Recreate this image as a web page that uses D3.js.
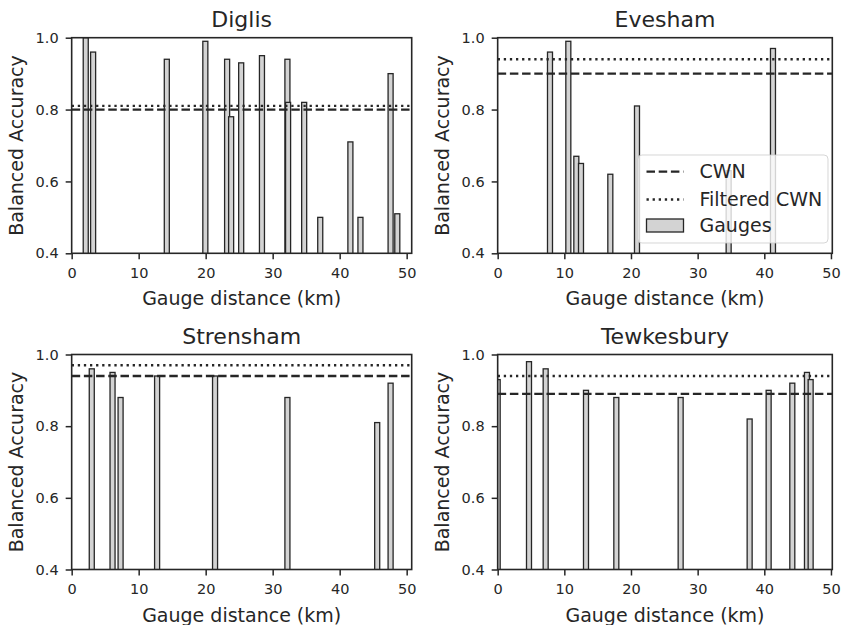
<!DOCTYPE html>
<html>
<head>
<meta charset="utf-8">
<script src="https://cdn.jsdelivr.net/npm/d3@7"></script>
<style>
  body { margin: 0; background: #fff; }
  svg { display: block; font-family: "DejaVu Sans", sans-serif; }
</style>
</head>
<body>
<svg id="chart" width="842" height="625"></svg>
<script>
// gauge distance (km) and balanced accuracy, one pair of arrays per station
const diglisDist = [2.1, 3.2, 14.2, 19.95, 23.2, 23.8, 25.3, 28.4, 32.2, 32.3, 34.7, 37.1, 41.6, 43.1, 47.6, 48.6];
const diglisAcc = [1.0, 0.96, 0.94, 0.99, 0.94, 0.78, 0.93, 0.95, 0.94, 0.82, 0.82, 0.50, 0.71, 0.50, 0.90, 0.51];
const eveshamDist = [7.85, 10.6, 11.8, 12.5, 16.9, 20.9, 34.65, 41.3];
const eveshamAcc = [0.96, 0.99, 0.67, 0.65, 0.62, 0.81, 0.63, 0.97];
const strenshamDist = [3.0, 6.1, 7.3, 12.75, 21.4, 32.2, 45.6, 47.6];
const strenshamAcc = [0.96, 0.95, 0.88, 0.94, 0.94, 0.88, 0.81, 0.92];
const tewkesburyDist = [0.0, 4.7, 7.2, 13.25, 17.8, 27.45, 37.8, 40.65, 44.2, 46.4, 46.95];
const tewkesburyAcc = [0.93, 0.98, 0.96, 0.90, 0.88, 0.88, 0.82, 0.90, 0.92, 0.95, 0.93];

const stations = ["Diglis", "Evesham", "Strensham", "Tewkesbury"];
const cwnAcc = [0.80, 0.90, 0.94, 0.89];
const filteredAcc = [0.81, 0.94, 0.97, 0.94];
const xMax = [50.75, 50.2, 50.75, 50.2];
const xTicks = [0, 10, 20, 30, 40, 50];
const yTicks = [0.4, 0.6, 0.8, 1.0];

const dists = [diglisDist, eveshamDist, strenshamDist, tewkesburyDist];
const accs = [diglisAcc, eveshamAcc, strenshamAcc, tewkesburyAcc];

const ink = "#262626";
const barWidth = 0.75; // km

// plot rectangles [left, top, right, bottom]
const boxes = [
  [71.67, 37.7, 411.7, 253.3],
  [497.67, 37.7, 832.3, 253.3],
  [71.67, 354.5, 411.7, 569.5],
  [497.67, 354.5, 832.3, 569.5],
];

const svg = d3.select("#chart");
const defs = svg.append("defs");

stations.forEach((name, i) => {
  const [l, t, r, b] = boxes[i];
  const x = d3.scaleLinear().domain([0, xMax[i]]).range([l, r]);
  const y = d3.scaleLinear().domain([0.4, 1.0]).range([b, t]);

  defs.append("clipPath").attr("id", "clip" + i)
    .append("rect").attr("x", l).attr("y", t).attr("width", r - l).attr("height", b - t);

  const g = svg.append("g");
  const plot = g.append("g").attr("clip-path", `url(#clip${i})`);

  const data = dists[i].map((d, j) => ({ d, a: accs[i][j] }));
  plot.selectAll("rect.bar").data(data).join("rect")
    .attr("class", "bar")
    .attr("x", (p) => x(p.d - barWidth / 2))
    .attr("width", x(barWidth) - x(0))
    .attr("y", (p) => y(p.a))
    .attr("height", (p) => y(0.4) - y(p.a) + 2)
    .attr("fill", "#d3d3d3")
    .attr("stroke", ink)
    .attr("stroke-width", 1.3);

  // reference lines
  plot.append("line")
    .attr("x1", l).attr("x2", r)
    .attr("y1", y(cwnAcc[i])).attr("y2", y(cwnAcc[i]))
    .attr("stroke", ink).attr("stroke-width", 2.3)
    .attr("stroke-dasharray", "8.5,3.7");
  plot.append("line")
    .attr("x1", l).attr("x2", r)
    .attr("y1", y(filteredAcc[i])).attr("y2", y(filteredAcc[i]))
    .attr("stroke", ink).attr("stroke-width", 2.3)
    .attr("stroke-dasharray", "2.3,3.8");

  // axes
  const xAxis = g.append("g").attr("transform", `translate(0,${b})`)
    .call(d3.axisBottom(x).tickValues(xTicks).tickSize(6).tickPadding(8.5).tickSizeOuter(0));
  const yAxis = g.append("g").attr("transform", `translate(${l},0)`)
    .call(d3.axisLeft(y).tickValues(yTicks).tickFormat(d3.format(".1f")).tickSize(6).tickPadding(7).tickSizeOuter(0));
  [xAxis, yAxis].forEach((ax) => {
    ax.select(".domain").remove();
    ax.selectAll("line").attr("stroke", ink).attr("stroke-width", 1.5);
    ax.selectAll("text").attr("fill", ink).style("font-size", "14.5px").style("font-family", "DejaVu Sans");
  });

  // frame
  g.append("rect")
    .attr("x", l).attr("y", t).attr("width", r - l).attr("height", b - t)
    .attr("fill", "none").attr("stroke", ink).attr("stroke-width", 1.6);

  g.append("text")
    .attr("x", (l + r) / 2).attr("y", t - 10.5)
    .attr("text-anchor", "middle").attr("fill", ink)
    .style("font-size", "22px").text(name);

  g.append("text")
    .attr("x", (l + r) / 2).attr("y", b + 52)
    .attr("text-anchor", "middle").attr("fill", ink)
    .style("font-size", "19px").text("Gauge distance (km)");

  g.append("text")
    .attr("transform", `translate(${l - 48.5},${(t + b) / 2}) rotate(-90)`)
    .attr("text-anchor", "middle").attr("fill", ink)
    .style("font-size", "19px").text("Balanced Accuracy");
});

// legend in the Evesham panel
const legendItems = ["CWN", "Filtered CWN", "Gauges"];
const leg = svg.append("g").attr("transform", "translate(638,155)");
leg.append("rect")
  .attr("width", 190).attr("height", 88).attr("rx", 4)
  .attr("fill", "#fff").attr("fill-opacity", 0.8)
  .attr("stroke", "#cccccc").attr("stroke-opacity", 0.8).attr("stroke-width", 1);
const rowY = [16.7, 44.5, 70.5];
legendItems.forEach((item, k) => {
  const yy = rowY[k];
  if (k === 0) {
    leg.append("line").attr("x1", 8.5).attr("x2", 45.5).attr("y1", yy).attr("y2", yy)
      .attr("stroke", ink).attr("stroke-width", 2.3).attr("stroke-dasharray", "8.5,3.7");
  } else if (k === 1) {
    leg.append("line").attr("x1", 8.5).attr("x2", 45.5).attr("y1", yy).attr("y2", yy)
      .attr("stroke", ink).attr("stroke-width", 2.3).attr("stroke-dasharray", "2.3,3.8");
  } else {
    leg.append("rect").attr("x", 8.5).attr("y", yy - 6.5).attr("width", 37).attr("height", 13)
      .attr("fill", "#d3d3d3").attr("stroke", ink).attr("stroke-width", 1.3);
  }
  leg.append("text").attr("x", 61.5).attr("y", yy).attr("dy", "0.35em")
    .attr("fill", ink).style("font-size", "19px").text(item);
});
</script>
</body>
</html>
